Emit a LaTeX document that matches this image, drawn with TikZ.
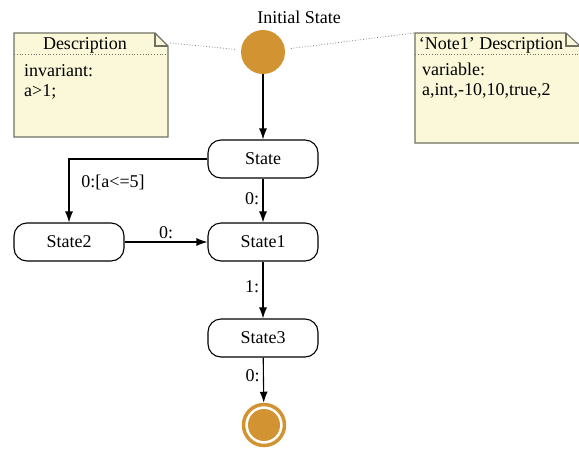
\documentclass[tikz,border=0pt]{standalone}
\usepackage{fontspec}
\setmainfont{Liberation Serif}
\usetikzlibrary{arrows.meta}
\definecolor{stateorange}{RGB}{210,148,50}
\definecolor{notefill}{RGB}{251,248,218}
\definecolor{noteborder}{RGB}{112,112,98}

\begin{document}
\begin{tikzpicture}[x=1pt, y=-1pt, font=\fontsize{18}{20}\selectfont,
	state/.style={rectangle, rounded corners=13pt, draw=black, line width=1.1pt, minimum width=110pt, minimum height=38pt, inner sep=0pt},
	initstate/.style={circle, fill=stateorange, minimum size=44pt, inner sep=0pt},
	finalstate/.style={circle, draw=stateorange, line width=3.5pt, fill=white, minimum size=41pt, inner sep=0pt,
		path picture={\fill[stateorange] (path picture bounding box.center) circle (16pt);}},
	trans/.style={draw=black, line width=1.1pt, -{Latex[length=11pt,width=8pt]}},
	notebox/.style={draw=noteborder, line width=1.1pt, fill=notefill},
	notesep/.style={draw=noteborder, line width=0.8pt, dotted},
	notelink/.style={draw=gray, line width=0.8pt, dotted},
	notetext/.style={inner sep=0pt}]
			\useasboundingbox (0,0) rectangle (579,448);
			
			\draw[notebox] (14,33) -- (155,33) -- (168,46) -- (168,137) -- (14,137) -- cycle;
			\draw[notebox, fill=none] (155,33) -- (155,46) -- (168,46);
			\draw[notesep] (14,54) -- (168,54);
			\draw[notebox] (415,33) -- (566,33) -- (580,46) -- (580,143) -- (415,143) -- cycle;
			\draw[notebox, fill=none] (566,33) -- (566,46) -- (580,46);
			\draw[notesep] (415,54) -- (580,54);
			
			\node[notetext, anchor=base] (title1) at (85,49){Description};
			\node[notetext, anchor=north west, align=left] (body1) at (24,64){invariant:\\a>1;};
			\node[notetext, anchor=base] (title2) at (491,49){‘Note1’ Description};
			\node[notetext, anchor=north west, align=left] (body2) at (422,63){variable:\\a,int,-10,10,true,2};
			
			\node[initstate] (init) at (263,52){};
			\node[notetext, anchor=base] (initlabel) at (299,23){Initial State};
			\node[state] (s0) at (263,159){State};
			\node[state] (s1) at (263,242){State1};
			\node[state] (s2) at (69,242){State2};
			\node[state] (s3) at (263,338){State3};
			\node[finalstate] (final) at (264,425){};
			
			\coordinate (n1) at (170,43);
			\coordinate (n2) at (414,33);
			
			\path[notelink, shorten >=6pt] (n1) edge (init);
			\path[notelink, shorten >=5pt] (n2) edge (init);
			
			\path[trans] (init) edge (s0);
			\path[trans] (s0) edge node[left, pos=0.45]{0:} (s1);
			\draw[trans] (s0) -| node[pos=0.5, xshift=44pt, yshift=-23pt]{0:[a<=5]} (s2);
			\path[trans] (s2) edge node[above, inner sep=3pt]{0:} (s1);
			\path[trans] (s1) edge node[left, pos=0.45]{1:} (s3);
			\path[trans] (s3) edge node[left, pos=0.4]{0:} (final);
			\end{tikzpicture}
\end{document}
